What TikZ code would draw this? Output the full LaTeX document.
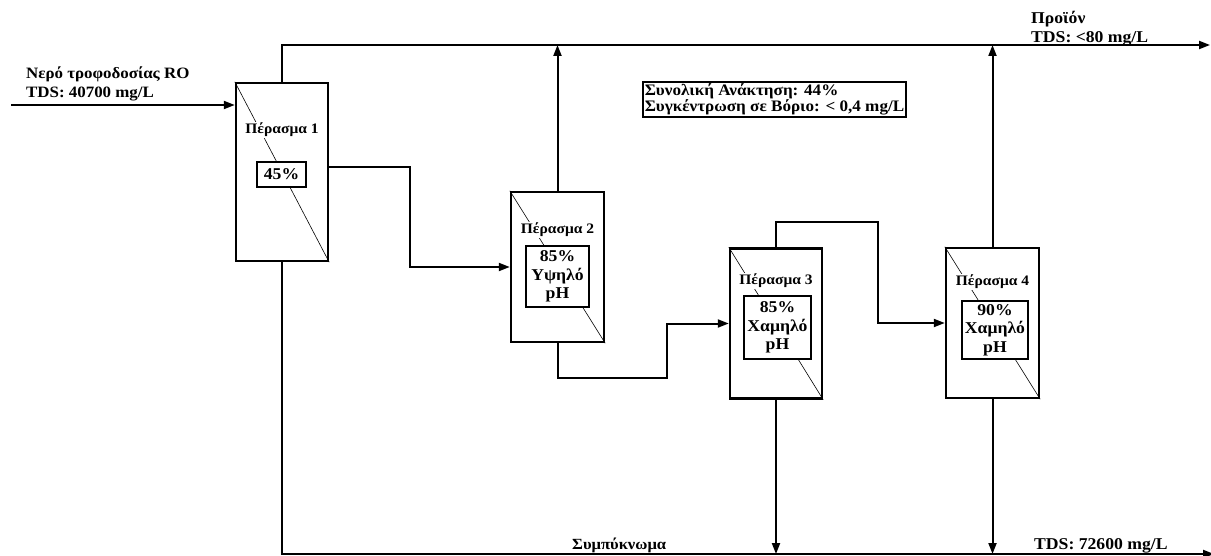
\documentclass[tikz,border=0pt]{standalone}
\usepackage{fontspec}
\setmainfont{Liberation Serif}[FakeStretch=1.07]
\usetikzlibrary{arrows.meta, positioning}
\tikzset{
  >=Triangle,
  flow/.style={-{Triangle[length=11pt, width=8pt]}, line width=2pt},
  passbox/.style={draw, line width=2.4pt, minimum width=92pt, minimum height=150pt, inner sep=0pt},
  passlabel/.style={fill=white, inner sep=1pt, font=\bfseries\fontsize{14.5}{16}\selectfont},
  ratebox/.style={draw, fill=white, line width=2.2pt, align=center, inner sep=0pt, font=\bfseries\fontsize{16.5}{18.5}\selectfont},
  streamlabel/.style={align=left, inner sep=0pt, font=\bfseries\fontsize{16.5}{19}\selectfont},
  notebox/.style={draw, line width=2pt, align=left, inner sep=2pt, font=\bfseries\fontsize{16}{14.5}\selectfont}
}

\begin{document}
\begin{tikzpicture}[x=1pt, y=-1pt]
  \useasboundingbox (0,0) rectangle (1211,556);
  % passes
  \node (p1) [passbox, minimum height=178pt] at (282,172) {};
  \node (p2) [passbox, minimum width=93pt] at (557.5,267) {};
  \node (p3) [passbox] at (776,323.5) {};
  \node (p4) [passbox, minimum width=93pt] at (992.5,323) {};
  \foreach \p in {p1,p2,p3,p4}
    \draw[line width=0.6pt] (\p.north west) -- (\p.south east);

  % pass labels and recoveries
  \node (l1) [passlabel] at (282,130) {Πέρασμα 1};
  \node (r1) [ratebox, minimum width=49pt, minimum height=25pt] at (281.5,174.5) {45\%};
  \node (l2) [passlabel] at (557.5,230) {Πέρασμα 2};
  \node (r2) [ratebox, minimum width=63pt, minimum height=61pt] at (557.5,276.5) {85\%\\Υψηλό\\pH};
  \node (l3) [passlabel] at (776,281) {Πέρασμα 3};
  \node (r3) [ratebox, minimum width=67pt, minimum height=63pt] at (777.5,327.5) {85\%\\Χαμηλό\\pH};
  \node (l4) [passlabel] at (992.5,282) {Πέρασμα 4};
  \node (r4) [ratebox, minimum width=66pt, minimum height=58pt] at (995,330) {90\%\\Χαμηλό\\pH};

  % streams
  \coordinate (feedStart) at (11,105);
  \coordinate (prodEnd) at (1210,45);
  \coordinate (concEnd) at (1214,554);
  \draw[flow] (feedStart) -- (feedStart -| p1.west);
  \draw[flow] (p1.north) |- (prodEnd);
  \draw[flow] (p1.south) |- (concEnd);
  \draw[flow] ([yshift=5pt]p1.east) -- ++(81,0) |- (p2.west);
  \draw[flow] (p2.north) -- (p2.north |- prodEnd);
  \draw[flow] (p2.south) |- (667,378) |- (p3.west);
  \draw[flow] (p3.north) |- (878,222) |- (p4.west);
  \draw[flow] (p4.north) -- (p4.north |- prodEnd);
  \draw[flow] (p3.south) -- (p3.south |- concEnd);
  \draw[flow] (p4.south) -- (p4.south |- concEnd);

  % stream labels
  \node (feed) [streamlabel, anchor=north west, font=\bfseries\fontsize{15.8}{19}\selectfont] at (26,67) {Νερό τροφοδοσίας RO\\TDS: 40700 mg/L};
  \node (prod) [streamlabel, anchor=north west] at (1031,11) {Προϊόν\\TDS: <80 mg/L};
  \node (conc) [streamlabel, anchor=base west, font=\bfseries\fontsize{15.5}{19}\selectfont] at (572,549) {Συμπύκνωμα};
  \node (concTds) [streamlabel, anchor=base west] at (1034,549) {TDS: 72600 mg/L};
  \node (note) [notebox] at (774.5,99.5) {Συνολική Ανάκτηση: 44\%\\Συγκέντρωση σε Βόριο: < 0,4 mg/L};
\end{tikzpicture}
\end{document}
